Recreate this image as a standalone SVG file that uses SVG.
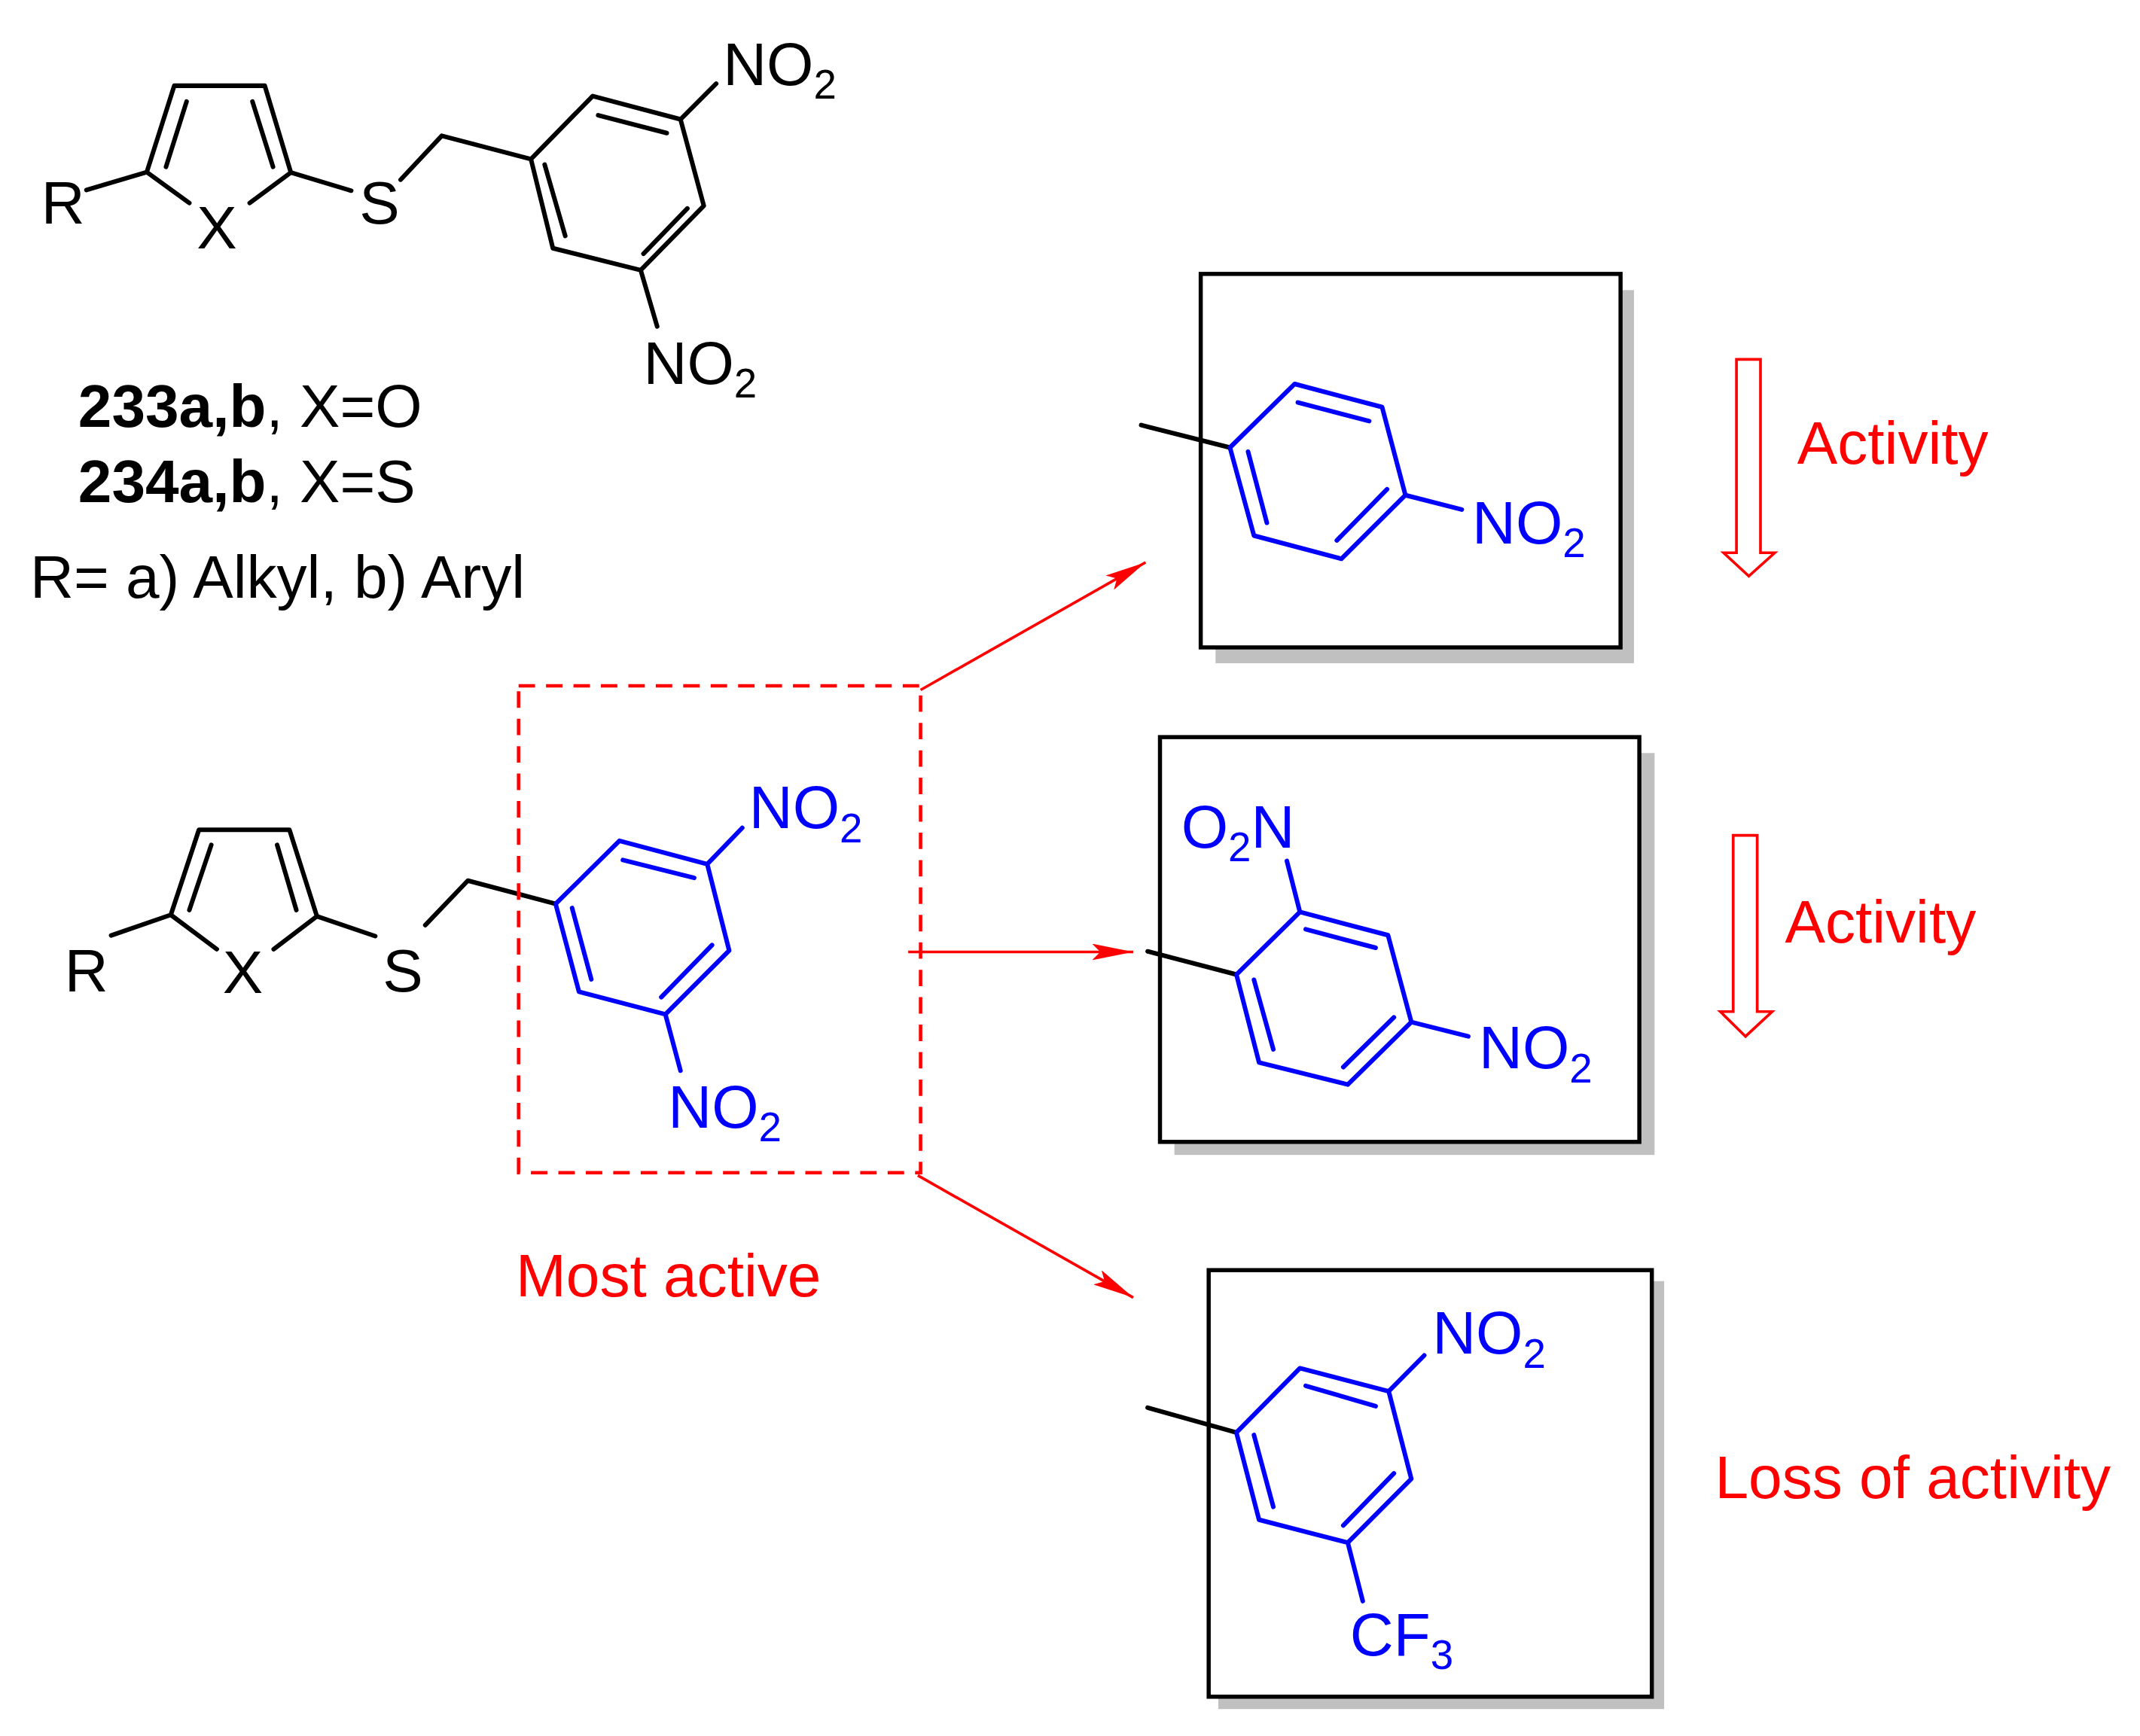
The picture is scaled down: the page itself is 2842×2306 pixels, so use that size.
<svg xmlns="http://www.w3.org/2000/svg" width="2842" height="2306" viewBox="0 0 2842 2306">
<defs>
<style>
.k{stroke:#000;stroke-width:3.3;fill:none;stroke-linecap:round;stroke-linejoin:round}
.b{stroke:#0000ff;stroke-width:3.3;fill:none;stroke-linecap:round;stroke-linejoin:round}
.r{stroke:#ff0000;stroke-width:2;fill:none}
.box{stroke:#000;stroke-width:3;fill:#fff}
.sh{fill:#c0c0c0}
text{font-family:"Liberation Sans",Arial,sans-serif;font-size:44px}
.tk{fill:#000}.tb{fill:#0000ff}.tr{fill:#ff0000}
.sub{font-size:30px}
</style>
<marker id="ah" viewBox="0 0 30 12" refX="30" refY="6" markerWidth="30" markerHeight="12" markerUnits="userSpaceOnUse" orient="auto"><path d="M0,0 L30,6 L0,12 L6,6 Z" fill="#ff0000"/></marker>
</defs>
<rect width="2842" height="2306" fill="#fff"/>
<g transform="scale(1.822)">
<g id="compound-top">
<path class="k" d="M63,138.5 L107,125.5 L127,62.5 L193,62.5 L212,125.8 L256,139 M107,125.5 L138,148 M212,125.8 L182,148 M121,121.6 L136,74 M184,74 L199,121.6 M292,131 L322,99 L387,116 M387,116 L432,70 L496,87 L513,150 L467,197 L403,181 Z M397,120 L412,172 M436,84 L486,97 M501,152 L469,185 M496,87 L522,61 M467,197 L479,238"/>
<text class="tk" x="30" y="163">R</text>
<text class="tk" x="158" y="181" text-anchor="middle">X</text>
<text class="tk" x="262" y="163">S</text>
<text class="tk" x="527" y="62">NO<tspan class="sub" dy="10">2</tspan></text>
<text class="tk" x="469" y="280">NO<tspan class="sub" dy="10">2</tspan></text>
<text class="tk" x="57" y="311"><tspan font-weight="bold">233a,b</tspan>, X=O</text>
<text class="tk" x="57" y="366"><tspan font-weight="bold">234a,b</tspan>, X=S</text>
<text class="tk" x="22" y="436">R= a) Alkyl, b) Aryl</text>
</g>
<g id="compound-main">
<path class="k" d="M81,682 L124.5,667 L145,605 L211,605 L231,668 L273.5,682.5 M124.5,667 L158,692 M231,668 L199.5,692 M138,663.5 L154,616 M202,616 L216,663.5 M310,674.5 L341,642 L405,659"/>
<path class="b" d="M405,659 L451.5,613 L515.5,630 L531.5,693 L485,739.5 L422,723 Z M417,662 L431,714 M454,627 L506,640 M519,689 L482,727 M515.5,630 L541,603.6 M485,739.5 L496,780.6"/>
<text class="tk" x="47" y="723">R</text>
<text class="tk" x="177" y="724" text-anchor="middle">X</text>
<text class="tk" x="279" y="723">S</text>
<text class="tb" x="546" y="604">NO<tspan class="sub" dy="10">2</tspan></text>
<text class="tb" x="487" y="822">NO<tspan class="sub" dy="10">2</tspan></text>
</g>
<g id="highlight">
<rect x="378" y="500" width="293" height="355" fill="none" stroke="#ff0000" stroke-width="2.5" stroke-dasharray="12,8"/>
<text class="tr" x="376" y="945">Most active</text>
</g>
<g id="connectors">
<line class="r" x1="671" y1="503" x2="835" y2="410" marker-end="url(#ah)"/>
<line class="r" x1="662" y1="694" x2="826" y2="694" marker-end="url(#ah)"/>
<line class="r" x1="669" y1="857" x2="826" y2="946" marker-end="url(#ah)"/>
</g>
<g id="box1">
<rect class="sh" x="886" y="211.5" width="305" height="272"/>
<rect class="box" x="875.2" y="199.7" width="306" height="272.3"/>
<path class="k" d="M831.8,309.9 L896.5,326.3"/>
<path class="b" d="M896.5,326.3 L943.7,279.9 L1007.4,296.8 L1024.4,361 L977.7,407.4 L914,390.5 Z M909.7,329.3 L923.4,381.2 M946,293.4 L998,307 M1011,356.7 L974.4,394 M1024.4,361 L1065.5,371.5"/>
<text class="tb" x="1073" y="396">NO<tspan class="sub" dy="10">2</tspan></text>
</g>
<g id="box2">
<rect class="sh" x="856" y="549" width="350" height="293"/>
<rect class="box" x="845.5" y="537.4" width="349.4" height="295.1"/>
<path class="k" d="M836.5,693.6 L901.2,710.5"/>
<path class="b" d="M901.2,710.5 L947.5,664.9 L1011.7,681.8 L1028.7,745.1 L982.4,790.7 L917.7,774.6 Z M914,714.3 L928.1,765 M951.7,677.5 L1002.7,691 M1016,741.7 L979.1,778 M947.5,664.9 L938,627.7 M1028.7,745.1 L1070.2,755.6"/>
<text class="tb" x="861" y="618">O<tspan class="sub" dy="10">2</tspan><tspan dy="-10">N</tspan></text>
<text class="tb" x="1078" y="779">NO<tspan class="sub" dy="10">2</tspan></text>
</g>
<g id="box3">
<rect class="sh" x="888" y="934" width="325" height="312"/>
<rect class="box" x="881" y="926" width="323" height="311"/>
<path class="k" d="M836.5,1026.3 L901.2,1044.4"/>
<path class="b" d="M901.2,1044.4 L947.5,997.5 L1012.2,1014.3 L1028.7,1078.2 L982.4,1124.7 L917.7,1108 Z M914,1046.2 L928.1,1098.6 M951.7,1010.3 L1002.7,1025.2 M1016,1074.2 L979.1,1112.2 M1012.2,1014.3 L1038.1,988.2 M982.4,1124.7 L993.3,1167.3"/>
<text class="tb" x="1044" y="987">NO<tspan class="sub" dy="10">2</tspan></text>
<text class="tb" x="984" y="1207">CF<tspan class="sub" dy="10">3</tspan></text>
</g>
<g id="trend">
<path d="M1265.7,262 L1283.2,262 L1283.2,403 L1293.6,403 L1274.7,420 L1256.3,403 L1265.7,403 Z" fill="none" stroke="#ff0000" stroke-width="2"/>
<text class="tr" x="1310" y="338">Activity</text>
<path d="M1263.3,609 L1280.8,609 L1280.8,737.5 L1291.7,737.5 L1272.3,755.6 L1253.9,737.5 L1263.3,737.5 Z" fill="none" stroke="#ff0000" stroke-width="2"/>
<text class="tr" x="1301" y="687">Activity</text>
<text class="tr" x="1250" y="1092">Loss of activity</text>
</g>
</g>
</svg>
